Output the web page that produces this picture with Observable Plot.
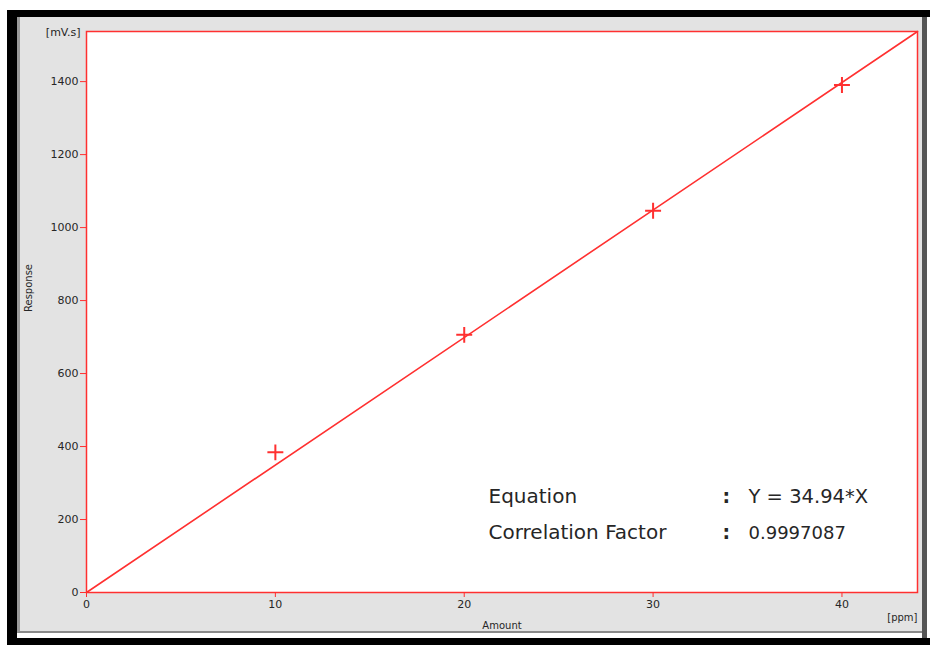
<!DOCTYPE html>
<html>
<head>
<meta charset="utf-8">
<script src="https://cdn.jsdelivr.net/npm/d3@7"></script>
<script src="https://cdn.jsdelivr.net/npm/@observablehq/plot@0.6"></script>
<style>
  html, body { margin: 0; padding: 0; background: #fff; }
  #wrap { position: relative; width: 930px; height: 645px; overflow: hidden; background: #fff; }
  .blk { position: absolute; background: #000; }
  #bg { position: absolute; left: 17px; top: 17px; width: 905px; height: 616px; background: #e3e3e3;
        box-sizing: border-box; border-left: 3px solid #9a9a9a; border-bottom: 2px solid #8a8a8a; }
  #rightbar { position: absolute; left: 922px; top: 17px; width: 5px; height: 621px; background: #555; }
  #chart { position: absolute; left: 0; top: 0; }
  #chart svg { background: transparent !important; overflow: visible; }
</style>
</head>
<body>
<div id="wrap">
  <div class="blk" style="left:7px;top:10px;width:923px;height:7px"></div>
  <div class="blk" style="left:7px;top:10px;width:10px;height:635px"></div>
  <div class="blk" style="left:7px;top:638px;width:923px;height:7px"></div>
  <div id="bg"></div>
  <div id="rightbar"></div>
  <div id="chart"></div>
</div>
<script>
// Calibration standards
const amounts = [10, 20, 30, 40];          // ppm
const responses = [384, 706, 1046, 1391];  // mV.s
const slope = 34.94;                        // Y = 34.94*X
const correlation = "0.9997087";
const xDomain = [0, 44];
const xTicks = [0, 10, 20, 30, 40];
const yTicks = [0, 200, 400, 600, 800, 1000, 1200, 1400];
const annotationLabels = ["Equation", "Correlation Factor"];
const annotationValues = [`Y = ${slope}*X`, correlation];

const points = amounts.map((a, i) => ({amount: a, response: responses[i]}));
const fit = xDomain.map(x => ({amount: x, response: slope * x}));
const yDomain = [0, slope * xDomain[1]];

const red = "#ff3030";
const txt = "#262626";
const font = "DejaVu Sans, Verdana, sans-serif";

const rowDy = [-90, -54];
const annotationMarks = annotationLabels.flatMap((label, i) => [
  Plot.text([label], {frameAnchor: "bottom-left", dx: 402, dy: rowDy[i], textAnchor: "start", fill: txt, fontSize: 20}),
  Plot.text([":"], {frameAnchor: "bottom-left", dx: 636, dy: rowDy[i], textAnchor: "start", fill: txt, fontSize: 19, fontWeight: "bold"}),
  Plot.text([annotationValues[i]], {frameAnchor: "bottom-left", dx: 662, dy: rowDy[i], textAnchor: "start", fill: txt, fontSize: i === 0 ? 19.5 : 18})
]);

const chart = Plot.plot({
  width: 930,
  height: 645,
  marginLeft: 86,
  marginTop: 31,
  marginRight: 13,
  marginBottom: 53,
  style: {fontFamily: font, background: "transparent", overflow: "visible"},
  x: {domain: xDomain, label: null},
  y: {domain: yDomain, label: null},
  marks: [
    Plot.frame({fill: "white", stroke: red, strokeWidth: 1.5}),
    Plot.axisY({ticks: yTicks, tickFormat: d => String(d), tickSize: 6, tickPadding: 2, stroke: red, color: txt, fontSize: 11, label: null}),
    Plot.axisX({ticks: xTicks, tickFormat: d => String(d), tickSize: 5, tickPadding: 3, stroke: red, color: txt, fontSize: 11, label: null}),
    Plot.line(fit, {x: "amount", y: "response", stroke: red, strokeWidth: 1.6}),
    Plot.dot(points, {x: "amount", y: "response", symbol: "plus", r: 5.2, stroke: red, strokeWidth: 2}),
    Plot.text(["[mV.s]"], {frameAnchor: "top-left", dx: -6, dy: -3, textAnchor: "end", fill: txt, fontSize: 11}),
    Plot.text(["Response"], {frameAnchor: "left", dx: -58, rotate: -90, fill: txt, fontSize: 10}),
    Plot.text(["Amount"], {frameAnchor: "bottom", dy: 36, fill: txt, fontSize: 10}),
    Plot.text(["[ppm]"], {frameAnchor: "bottom-right", dy: 28, textAnchor: "end", fill: txt, fontSize: 10}),
    ...annotationMarks
  ]
});
document.getElementById("chart").appendChild(chart);
</script>
</body>
</html>
